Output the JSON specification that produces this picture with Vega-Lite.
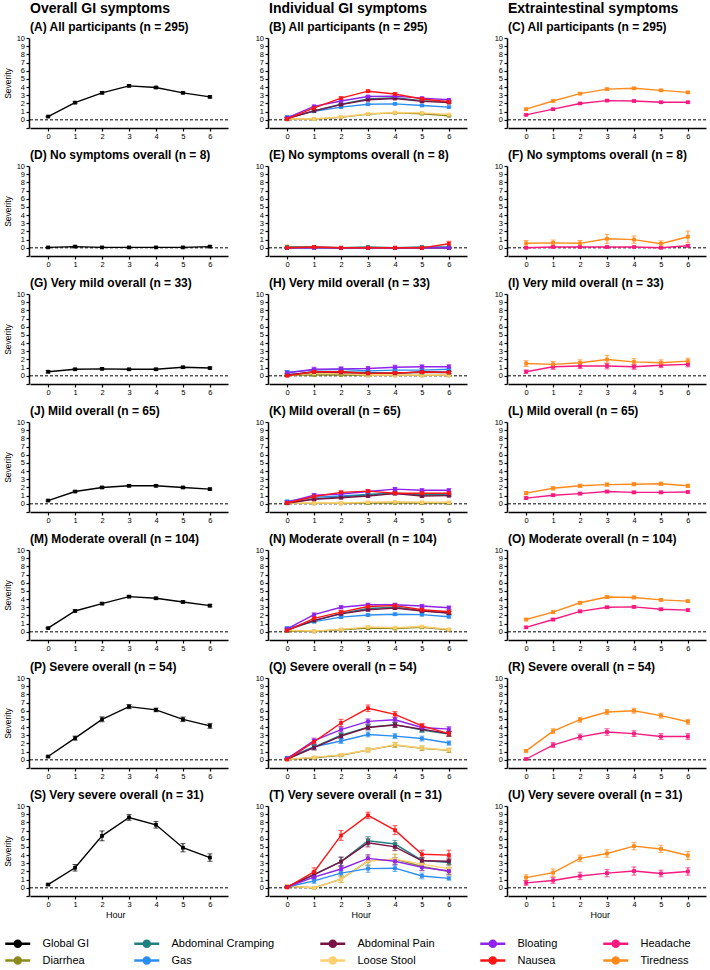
{
  "$schema": "https://vega.github.io/schema/vega-lite/v6.json",
  "background": "white",
  "padding": {"left": 3, "top": 2, "right": 2, "bottom": 0},
  "config": {
    "font": "Liberation Sans",
    "view": {"stroke": null},
    "axis": {
      "grid": false, "domainColor": "black", "domainWidth": 1.5,
      "tickColor": "black", "tickWidth": 1.2, "tickSize": 3,
      "labelColor": "black", "labelFontSize": 7.5, "labelPadding": 1.5,
      "labelOverlap": false, "labelFlush": false, "labelBound": false,
      "titleFontSize": 8.5, "titleFontWeight": "normal", "titleColor": "black", "titlePadding": 4
    },
    "axisY": {"tickCount": 11, "labelExpr": "datum.value < 0 ? '' : datum.label"},
    "axisX": {"tickCount": 7},
    "header": {
      "labelFontSize": 12, "labelFontWeight": "bold", "labelAnchor": "start",
      "labelPadding": 4, "labelColor": "black",
      "titleFontSize": 14, "titleFontWeight": "bold", "titleAnchor": "start",
      "titlePadding": 5, "titleColor": "black"
    },
    "title": {"fontSize": 9, "fontWeight": "normal", "color": "black", "offset": 3, "anchor": "middle"},
    "legend": {
      "orient": "bottom", "direction": "horizontal", "columns": 5,
      "symbolType": "M-5.16,0H-1.16M-3.64,0A0.48,0.48,0,1,1,-2.68,0A0.48,0.48,0,1,1,-3.64,0Z",
      "symbolSize": 156, "symbolStrokeWidth": 2.5, "labelFontSize": 11, "labelColor": "black",
      "labelOffset": -2.5, "columnPadding": 40, "rowPadding": 0, "offset": 16
    }
  },
  "datasets": {
    "panels": [
      {"p": "A", "t": "(A)  All participants (n = 295)"},
      {"p": "B", "t": "(B)  All participants (n = 295)"},
      {"p": "C", "t": "(C)  All participants (n = 295)"},
      {"p": "D", "t": "(D)  No symptoms overall (n = 8)"},
      {"p": "E", "t": "(E)  No symptoms overall (n = 8)"},
      {"p": "F", "t": "(F)  No symptoms overall (n = 8)"},
      {"p": "G", "t": "(G)  Very mild overall (n = 33)"},
      {"p": "H", "t": "(H)  Very mild overall (n = 33)"},
      {"p": "I", "t": "(I)  Very mild overall (n = 33)"},
      {"p": "J", "t": "(J)  Mild overall (n = 65)"},
      {"p": "K", "t": "(K)  Mild overall (n = 65)"},
      {"p": "L", "t": "(L)  Mild overall (n = 65)"},
      {"p": "M", "t": "(M)  Moderate overall (n = 104)"},
      {"p": "N", "t": "(N)  Moderate overall (n = 104)"},
      {"p": "O", "t": "(O)  Moderate overall (n = 104)"},
      {"p": "P", "t": "(P)  Severe overall (n = 54)"},
      {"p": "Q", "t": "(Q)  Severe overall (n = 54)"},
      {"p": "R", "t": "(R)  Severe overall (n = 54)"},
      {"p": "S", "t": "(S)  Very severe overall (n = 31)"},
      {"p": "T", "t": "(T)  Very severe overall (n = 31)"},
      {"p": "U", "t": "(U)  Very severe overall (n = 31)"}
    ],
    "pts": [
      {"p":"A","s":"Global GI","h":0,"m":0.4,"e":0.05},{"p":"A","s":"Global GI","h":1,"m":2.1,"e":0.12},{"p":"A","s":"Global GI","h":2,"m":3.3,"e":0.13},{"p":"A","s":"Global GI","h":3,"m":4.15,"e":0.13},{"p":"A","s":"Global GI","h":4,"m":3.95,"e":0.13},{"p":"A","s":"Global GI","h":5,"m":3.3,"e":0.12},{"p":"A","s":"Global GI","h":6,"m":2.8,"e":0.12},
      {"p":"D","s":"Global GI","h":0,"m":0.05,"e":0.05},{"p":"D","s":"Global GI","h":1,"m":0.15,"e":0.1},{"p":"D","s":"Global GI","h":2,"m":0.05,"e":0.05},{"p":"D","s":"Global GI","h":3,"m":0.05,"e":0.05},{"p":"D","s":"Global GI","h":4,"m":0.05,"e":0.05},{"p":"D","s":"Global GI","h":5,"m":0.05,"e":0.05},{"p":"D","s":"Global GI","h":6,"m":0.15,"e":0.1},
      {"p":"G","s":"Global GI","h":0,"m":0.5,"e":0.15},{"p":"G","s":"Global GI","h":1,"m":0.8,"e":0.1},{"p":"G","s":"Global GI","h":2,"m":0.85,"e":0.1},{"p":"G","s":"Global GI","h":3,"m":0.8,"e":0.1},{"p":"G","s":"Global GI","h":4,"m":0.8,"e":0.12},{"p":"G","s":"Global GI","h":5,"m":1.05,"e":0.12},{"p":"G","s":"Global GI","h":6,"m":0.95,"e":0.12},
      {"p":"J","s":"Global GI","h":0,"m":0.4,"e":0.08},{"p":"J","s":"Global GI","h":1,"m":1.5,"e":0.12},{"p":"J","s":"Global GI","h":2,"m":2.0,"e":0.12},{"p":"J","s":"Global GI","h":3,"m":2.2,"e":0.12},{"p":"J","s":"Global GI","h":4,"m":2.2,"e":0.12},{"p":"J","s":"Global GI","h":5,"m":2.0,"e":0.12},{"p":"J","s":"Global GI","h":6,"m":1.8,"e":0.12},
      {"p":"M","s":"Global GI","h":0,"m":0.45,"e":0.07},{"p":"M","s":"Global GI","h":1,"m":2.55,"e":0.13},{"p":"M","s":"Global GI","h":2,"m":3.45,"e":0.13},{"p":"M","s":"Global GI","h":3,"m":4.3,"e":0.13},{"p":"M","s":"Global GI","h":4,"m":4.1,"e":0.13},{"p":"M","s":"Global GI","h":5,"m":3.65,"e":0.13},{"p":"M","s":"Global GI","h":6,"m":3.2,"e":0.15},
      {"p":"P","s":"Global GI","h":0,"m":0.4,"e":0.08},{"p":"P","s":"Global GI","h":1,"m":2.65,"e":0.25},{"p":"P","s":"Global GI","h":2,"m":4.95,"e":0.3},{"p":"P","s":"Global GI","h":3,"m":6.5,"e":0.25},{"p":"P","s":"Global GI","h":4,"m":6.1,"e":0.22},{"p":"P","s":"Global GI","h":5,"m":4.95,"e":0.28},{"p":"P","s":"Global GI","h":6,"m":4.15,"e":0.3},
      {"p":"S","s":"Global GI","h":0,"m":0.4,"e":0.1},{"p":"S","s":"Global GI","h":1,"m":2.45,"e":0.4},{"p":"S","s":"Global GI","h":2,"m":6.35,"e":0.6},{"p":"S","s":"Global GI","h":3,"m":8.6,"e":0.35},{"p":"S","s":"Global GI","h":4,"m":7.7,"e":0.4},{"p":"S","s":"Global GI","h":5,"m":4.9,"e":0.5},{"p":"S","s":"Global GI","h":6,"m":3.7,"e":0.45},

      {"p":"B","s":"Diarrhea","h":0,"m":0.05,"e":0.05},{"p":"B","s":"Diarrhea","h":1,"m":0.1,"e":0.05},{"p":"B","s":"Diarrhea","h":2,"m":0.3,"e":0.05},{"p":"B","s":"Diarrhea","h":3,"m":0.7,"e":0.05},{"p":"B","s":"Diarrhea","h":4,"m":0.85,"e":0.05},{"p":"B","s":"Diarrhea","h":5,"m":0.75,"e":0.05},{"p":"B","s":"Diarrhea","h":6,"m":0.5,"e":0.05},
      {"p":"B","s":"Loose Stool","h":0,"m":0.1,"e":0.06},{"p":"B","s":"Loose Stool","h":1,"m":0.1,"e":0.06},{"p":"B","s":"Loose Stool","h":2,"m":0.35,"e":0.06},{"p":"B","s":"Loose Stool","h":3,"m":0.75,"e":0.06},{"p":"B","s":"Loose Stool","h":4,"m":0.9,"e":0.06},{"p":"B","s":"Loose Stool","h":5,"m":0.85,"e":0.06},{"p":"B","s":"Loose Stool","h":6,"m":0.65,"e":0.06},
      {"p":"B","s":"Gas","h":0,"m":0.35,"e":0.1},{"p":"B","s":"Gas","h":1,"m":1.05,"e":0.1},{"p":"B","s":"Gas","h":2,"m":1.55,"e":0.1},{"p":"B","s":"Gas","h":3,"m":1.9,"e":0.1},{"p":"B","s":"Gas","h":4,"m":1.95,"e":0.1},{"p":"B","s":"Gas","h":5,"m":1.75,"e":0.1},{"p":"B","s":"Gas","h":6,"m":1.55,"e":0.1},
      {"p":"B","s":"Abdominal Cramping","h":0,"m":0.15,"e":0.12},{"p":"B","s":"Abdominal Cramping","h":1,"m":1.1,"e":0.12},{"p":"B","s":"Abdominal Cramping","h":2,"m":1.9,"e":0.12},{"p":"B","s":"Abdominal Cramping","h":3,"m":2.55,"e":0.12},{"p":"B","s":"Abdominal Cramping","h":4,"m":2.7,"e":0.12},{"p":"B","s":"Abdominal Cramping","h":5,"m":2.35,"e":0.12},{"p":"B","s":"Abdominal Cramping","h":6,"m":2.2,"e":0.12},
      {"p":"B","s":"Abdominal Pain","h":0,"m":0.15,"e":0.12},{"p":"B","s":"Abdominal Pain","h":1,"m":1.1,"e":0.12},{"p":"B","s":"Abdominal Pain","h":2,"m":1.85,"e":0.12},{"p":"B","s":"Abdominal Pain","h":3,"m":2.45,"e":0.12},{"p":"B","s":"Abdominal Pain","h":4,"m":2.6,"e":0.12},{"p":"B","s":"Abdominal Pain","h":5,"m":2.25,"e":0.12},{"p":"B","s":"Abdominal Pain","h":6,"m":2.1,"e":0.12},
      {"p":"B","s":"Bloating","h":0,"m":0.25,"e":0.12},{"p":"B","s":"Bloating","h":1,"m":1.65,"e":0.12},{"p":"B","s":"Bloating","h":2,"m":2.3,"e":0.12},{"p":"B","s":"Bloating","h":3,"m":2.85,"e":0.12},{"p":"B","s":"Bloating","h":4,"m":2.9,"e":0.12},{"p":"B","s":"Bloating","h":5,"m":2.65,"e":0.12},{"p":"B","s":"Bloating","h":6,"m":2.45,"e":0.12},
      {"p":"B","s":"Nausea","h":0,"m":0.1,"e":0.15},{"p":"B","s":"Nausea","h":1,"m":1.45,"e":0.15},{"p":"B","s":"Nausea","h":2,"m":2.65,"e":0.15},{"p":"B","s":"Nausea","h":3,"m":3.5,"e":0.15},{"p":"B","s":"Nausea","h":4,"m":3.15,"e":0.15},{"p":"B","s":"Nausea","h":5,"m":2.55,"e":0.15},{"p":"B","s":"Nausea","h":6,"m":2.2,"e":0.15},

      {"p":"E","s":"Diarrhea","h":0,"m":0,"e":0},{"p":"E","s":"Diarrhea","h":1,"m":0,"e":0},{"p":"E","s":"Diarrhea","h":2,"m":0,"e":0},{"p":"E","s":"Diarrhea","h":3,"m":0,"e":0},{"p":"E","s":"Diarrhea","h":4,"m":0,"e":0},{"p":"E","s":"Diarrhea","h":5,"m":0,"e":0},{"p":"E","s":"Diarrhea","h":6,"m":0,"e":0},
      {"p":"E","s":"Loose Stool","h":0,"m":0.2,"e":0.1},{"p":"E","s":"Loose Stool","h":1,"m":0,"e":0},{"p":"E","s":"Loose Stool","h":2,"m":0,"e":0},{"p":"E","s":"Loose Stool","h":3,"m":0,"e":0},{"p":"E","s":"Loose Stool","h":4,"m":0,"e":0},{"p":"E","s":"Loose Stool","h":5,"m":0,"e":0},{"p":"E","s":"Loose Stool","h":6,"m":0.05,"e":0.05},
      {"p":"E","s":"Gas","h":0,"m":0,"e":0},{"p":"E","s":"Gas","h":1,"m":0,"e":0},{"p":"E","s":"Gas","h":2,"m":0,"e":0},{"p":"E","s":"Gas","h":3,"m":0,"e":0},{"p":"E","s":"Gas","h":4,"m":0,"e":0},{"p":"E","s":"Gas","h":5,"m":0,"e":0},{"p":"E","s":"Gas","h":6,"m":0,"e":0},
      {"p":"E","s":"Abdominal Cramping","h":0,"m":0.1,"e":0.05},{"p":"E","s":"Abdominal Cramping","h":1,"m":0.1,"e":0.05},{"p":"E","s":"Abdominal Cramping","h":2,"m":0,"e":0},{"p":"E","s":"Abdominal Cramping","h":3,"m":0.1,"e":0.05},{"p":"E","s":"Abdominal Cramping","h":4,"m":0,"e":0},{"p":"E","s":"Abdominal Cramping","h":5,"m":0.1,"e":0.05},{"p":"E","s":"Abdominal Cramping","h":6,"m":0.1,"e":0.05},
      {"p":"E","s":"Abdominal Pain","h":0,"m":0,"e":0},{"p":"E","s":"Abdominal Pain","h":1,"m":0.05,"e":0.05},{"p":"E","s":"Abdominal Pain","h":2,"m":0,"e":0},{"p":"E","s":"Abdominal Pain","h":3,"m":0,"e":0},{"p":"E","s":"Abdominal Pain","h":4,"m":0,"e":0},{"p":"E","s":"Abdominal Pain","h":5,"m":0,"e":0},{"p":"E","s":"Abdominal Pain","h":6,"m":0,"e":0},
      {"p":"E","s":"Bloating","h":0,"m":0,"e":0},{"p":"E","s":"Bloating","h":1,"m":0,"e":0},{"p":"E","s":"Bloating","h":2,"m":0,"e":0},{"p":"E","s":"Bloating","h":3,"m":0,"e":0},{"p":"E","s":"Bloating","h":4,"m":0,"e":0},{"p":"E","s":"Bloating","h":5,"m":0,"e":0},{"p":"E","s":"Bloating","h":6,"m":0,"e":0},
      {"p":"E","s":"Nausea","h":0,"m":0,"e":0},{"p":"E","s":"Nausea","h":1,"m":0.1,"e":0.1},{"p":"E","s":"Nausea","h":2,"m":0,"e":0},{"p":"E","s":"Nausea","h":3,"m":0,"e":0},{"p":"E","s":"Nausea","h":4,"m":0,"e":0},{"p":"E","s":"Nausea","h":5,"m":0,"e":0},{"p":"E","s":"Nausea","h":6,"m":0.5,"e":0.3},

      {"p":"H","s":"Diarrhea","h":0,"m":0.1,"e":0.05},{"p":"H","s":"Diarrhea","h":1,"m":0.1,"e":0.05},{"p":"H","s":"Diarrhea","h":2,"m":0.1,"e":0.05},{"p":"H","s":"Diarrhea","h":3,"m":0.05,"e":0.05},{"p":"H","s":"Diarrhea","h":4,"m":0.05,"e":0.05},{"p":"H","s":"Diarrhea","h":5,"m":0.05,"e":0.05},{"p":"H","s":"Diarrhea","h":6,"m":0.05,"e":0.05},
      {"p":"H","s":"Loose Stool","h":0,"m":0.1,"e":0.1},{"p":"H","s":"Loose Stool","h":1,"m":0.3,"e":0.1},{"p":"H","s":"Loose Stool","h":2,"m":0.3,"e":0.1},{"p":"H","s":"Loose Stool","h":3,"m":0.1,"e":0.1},{"p":"H","s":"Loose Stool","h":4,"m":0.1,"e":0.1},{"p":"H","s":"Loose Stool","h":5,"m":0.1,"e":0.1},{"p":"H","s":"Loose Stool","h":6,"m":0.1,"e":0.1},
      {"p":"H","s":"Gas","h":0,"m":0.45,"e":0.2},{"p":"H","s":"Gas","h":1,"m":0.7,"e":0.2},{"p":"H","s":"Gas","h":2,"m":0.8,"e":0.2},{"p":"H","s":"Gas","h":3,"m":0.6,"e":0.2},{"p":"H","s":"Gas","h":4,"m":0.7,"e":0.2},{"p":"H","s":"Gas","h":5,"m":0.7,"e":0.2},{"p":"H","s":"Gas","h":6,"m":0.8,"e":0.2},
      {"p":"H","s":"Abdominal Cramping","h":0,"m":0.1,"e":0.15},{"p":"H","s":"Abdominal Cramping","h":1,"m":0.45,"e":0.15},{"p":"H","s":"Abdominal Cramping","h":2,"m":0.5,"e":0.15},{"p":"H","s":"Abdominal Cramping","h":3,"m":0.4,"e":0.15},{"p":"H","s":"Abdominal Cramping","h":4,"m":0.35,"e":0.15},{"p":"H","s":"Abdominal Cramping","h":5,"m":0.4,"e":0.15},{"p":"H","s":"Abdominal Cramping","h":6,"m":0.4,"e":0.15},
      {"p":"H","s":"Abdominal Pain","h":0,"m":0.1,"e":0.15},{"p":"H","s":"Abdominal Pain","h":1,"m":0.5,"e":0.15},{"p":"H","s":"Abdominal Pain","h":2,"m":0.4,"e":0.15},{"p":"H","s":"Abdominal Pain","h":3,"m":0.3,"e":0.15},{"p":"H","s":"Abdominal Pain","h":4,"m":0.3,"e":0.15},{"p":"H","s":"Abdominal Pain","h":5,"m":0.5,"e":0.15},{"p":"H","s":"Abdominal Pain","h":6,"m":0.45,"e":0.15},
      {"p":"H","s":"Bloating","h":0,"m":0.35,"e":0.25},{"p":"H","s":"Bloating","h":1,"m":0.8,"e":0.25},{"p":"H","s":"Bloating","h":2,"m":0.85,"e":0.25},{"p":"H","s":"Bloating","h":3,"m":0.9,"e":0.25},{"p":"H","s":"Bloating","h":4,"m":1.05,"e":0.25},{"p":"H","s":"Bloating","h":5,"m":1.1,"e":0.25},{"p":"H","s":"Bloating","h":6,"m":1.1,"e":0.25},
      {"p":"H","s":"Nausea","h":0,"m":0,"e":0.05},{"p":"H","s":"Nausea","h":1,"m":0.5,"e":0.15},{"p":"H","s":"Nausea","h":2,"m":0.5,"e":0.15},{"p":"H","s":"Nausea","h":3,"m":0.3,"e":0.15},{"p":"H","s":"Nausea","h":4,"m":0.35,"e":0.15},{"p":"H","s":"Nausea","h":5,"m":0.45,"e":0.15},{"p":"H","s":"Nausea","h":6,"m":0.4,"e":0.15},

      {"p":"K","s":"Diarrhea","h":0,"m":0.05,"e":0.05},{"p":"K","s":"Diarrhea","h":1,"m":0.05,"e":0.05},{"p":"K","s":"Diarrhea","h":2,"m":0.05,"e":0.05},{"p":"K","s":"Diarrhea","h":3,"m":0.1,"e":0.05},{"p":"K","s":"Diarrhea","h":4,"m":0.1,"e":0.05},{"p":"K","s":"Diarrhea","h":5,"m":0.1,"e":0.05},{"p":"K","s":"Diarrhea","h":6,"m":0.1,"e":0.05},
      {"p":"K","s":"Loose Stool","h":0,"m":0.1,"e":0.08},{"p":"K","s":"Loose Stool","h":1,"m":0.1,"e":0.08},{"p":"K","s":"Loose Stool","h":2,"m":0.1,"e":0.08},{"p":"K","s":"Loose Stool","h":3,"m":0.2,"e":0.08},{"p":"K","s":"Loose Stool","h":4,"m":0.25,"e":0.08},{"p":"K","s":"Loose Stool","h":5,"m":0.2,"e":0.08},{"p":"K","s":"Loose Stool","h":6,"m":0.2,"e":0.08},
      {"p":"K","s":"Gas","h":0,"m":0.3,"e":0.15},{"p":"K","s":"Gas","h":1,"m":0.8,"e":0.15},{"p":"K","s":"Gas","h":2,"m":0.95,"e":0.15},{"p":"K","s":"Gas","h":3,"m":1.15,"e":0.15},{"p":"K","s":"Gas","h":4,"m":1.3,"e":0.15},{"p":"K","s":"Gas","h":5,"m":1.15,"e":0.15},{"p":"K","s":"Gas","h":6,"m":1.15,"e":0.15},
      {"p":"K","s":"Abdominal Cramping","h":0,"m":0.1,"e":0.15},{"p":"K","s":"Abdominal Cramping","h":1,"m":0.6,"e":0.15},{"p":"K","s":"Abdominal Cramping","h":2,"m":0.85,"e":0.15},{"p":"K","s":"Abdominal Cramping","h":3,"m":1.1,"e":0.15},{"p":"K","s":"Abdominal Cramping","h":4,"m":1.3,"e":0.15},{"p":"K","s":"Abdominal Cramping","h":5,"m":1.1,"e":0.15},{"p":"K","s":"Abdominal Cramping","h":6,"m":1.1,"e":0.15},
      {"p":"K","s":"Abdominal Pain","h":0,"m":0.1,"e":0.15},{"p":"K","s":"Abdominal Pain","h":1,"m":0.55,"e":0.15},{"p":"K","s":"Abdominal Pain","h":2,"m":0.75,"e":0.15},{"p":"K","s":"Abdominal Pain","h":3,"m":0.95,"e":0.15},{"p":"K","s":"Abdominal Pain","h":4,"m":1.25,"e":0.15},{"p":"K","s":"Abdominal Pain","h":5,"m":0.95,"e":0.15},{"p":"K","s":"Abdominal Pain","h":6,"m":1.0,"e":0.15},
      {"p":"K","s":"Bloating","h":0,"m":0.2,"e":0.2},{"p":"K","s":"Bloating","h":1,"m":1.05,"e":0.2},{"p":"K","s":"Bloating","h":2,"m":1.2,"e":0.2},{"p":"K","s":"Bloating","h":3,"m":1.5,"e":0.2},{"p":"K","s":"Bloating","h":4,"m":1.8,"e":0.2},{"p":"K","s":"Bloating","h":5,"m":1.65,"e":0.2},{"p":"K","s":"Bloating","h":6,"m":1.65,"e":0.2},
      {"p":"K","s":"Nausea","h":0,"m":0.1,"e":0.08},{"p":"K","s":"Nausea","h":1,"m":0.9,"e":0.18},{"p":"K","s":"Nausea","h":2,"m":1.4,"e":0.18},{"p":"K","s":"Nausea","h":3,"m":1.55,"e":0.18},{"p":"K","s":"Nausea","h":4,"m":1.3,"e":0.18},{"p":"K","s":"Nausea","h":5,"m":1.3,"e":0.18},{"p":"K","s":"Nausea","h":6,"m":1.3,"e":0.18},

      {"p":"N","s":"Diarrhea","h":0,"m":0.1,"e":0.1},{"p":"N","s":"Diarrhea","h":1,"m":0.05,"e":0.05},{"p":"N","s":"Diarrhea","h":2,"m":0.25,"e":0.1},{"p":"N","s":"Diarrhea","h":3,"m":0.45,"e":0.1},{"p":"N","s":"Diarrhea","h":4,"m":0.4,"e":0.1},{"p":"N","s":"Diarrhea","h":5,"m":0.55,"e":0.1},{"p":"N","s":"Diarrhea","h":6,"m":0.25,"e":0.1},
      {"p":"N","s":"Loose Stool","h":0,"m":0.2,"e":0.1},{"p":"N","s":"Loose Stool","h":1,"m":0.1,"e":0.05},{"p":"N","s":"Loose Stool","h":2,"m":0.3,"e":0.1},{"p":"N","s":"Loose Stool","h":3,"m":0.6,"e":0.1},{"p":"N","s":"Loose Stool","h":4,"m":0.5,"e":0.1},{"p":"N","s":"Loose Stool","h":5,"m":0.65,"e":0.1},{"p":"N","s":"Loose Stool","h":6,"m":0.3,"e":0.1},
      {"p":"N","s":"Gas","h":0,"m":0.45,"e":0.15},{"p":"N","s":"Gas","h":1,"m":1.25,"e":0.15},{"p":"N","s":"Gas","h":2,"m":1.8,"e":0.15},{"p":"N","s":"Gas","h":3,"m":2.05,"e":0.15},{"p":"N","s":"Gas","h":4,"m":2.15,"e":0.15},{"p":"N","s":"Gas","h":5,"m":2.1,"e":0.15},{"p":"N","s":"Gas","h":6,"m":1.85,"e":0.15},
      {"p":"N","s":"Abdominal Cramping","h":0,"m":0.2,"e":0.18},{"p":"N","s":"Abdominal Cramping","h":1,"m":1.35,"e":0.18},{"p":"N","s":"Abdominal Cramping","h":2,"m":2.25,"e":0.18},{"p":"N","s":"Abdominal Cramping","h":3,"m":2.85,"e":0.18},{"p":"N","s":"Abdominal Cramping","h":4,"m":3.0,"e":0.18},{"p":"N","s":"Abdominal Cramping","h":5,"m":2.6,"e":0.18},{"p":"N","s":"Abdominal Cramping","h":6,"m":2.3,"e":0.18},
      {"p":"N","s":"Abdominal Pain","h":0,"m":0.2,"e":0.18},{"p":"N","s":"Abdominal Pain","h":1,"m":1.4,"e":0.18},{"p":"N","s":"Abdominal Pain","h":2,"m":2.2,"e":0.18},{"p":"N","s":"Abdominal Pain","h":3,"m":2.7,"e":0.18},{"p":"N","s":"Abdominal Pain","h":4,"m":2.9,"e":0.18},{"p":"N","s":"Abdominal Pain","h":5,"m":2.55,"e":0.18},{"p":"N","s":"Abdominal Pain","h":6,"m":2.3,"e":0.18},
      {"p":"N","s":"Bloating","h":0,"m":0.35,"e":0.2},{"p":"N","s":"Bloating","h":1,"m":2.1,"e":0.2},{"p":"N","s":"Bloating","h":2,"m":3.0,"e":0.2},{"p":"N","s":"Bloating","h":3,"m":3.3,"e":0.2},{"p":"N","s":"Bloating","h":4,"m":3.3,"e":0.2},{"p":"N","s":"Bloating","h":5,"m":3.15,"e":0.2},{"p":"N","s":"Bloating","h":6,"m":2.95,"e":0.2},
      {"p":"N","s":"Nausea","h":0,"m":0.15,"e":0.1},{"p":"N","s":"Nausea","h":1,"m":1.65,"e":0.2},{"p":"N","s":"Nausea","h":2,"m":2.4,"e":0.2},{"p":"N","s":"Nausea","h":3,"m":3.1,"e":0.2},{"p":"N","s":"Nausea","h":4,"m":3.2,"e":0.2},{"p":"N","s":"Nausea","h":5,"m":2.7,"e":0.2},{"p":"N","s":"Nausea","h":6,"m":2.45,"e":0.2},

      {"p":"Q","s":"Diarrhea","h":0,"m":0.05,"e":0.03},{"p":"Q","s":"Diarrhea","h":1,"m":0.25,"e":0.1},{"p":"Q","s":"Diarrhea","h":2,"m":0.55,"e":0.15},{"p":"Q","s":"Diarrhea","h":3,"m":1.2,"e":0.25},{"p":"Q","s":"Diarrhea","h":4,"m":1.8,"e":0.3},{"p":"Q","s":"Diarrhea","h":5,"m":1.4,"e":0.28},{"p":"Q","s":"Diarrhea","h":6,"m":1.15,"e":0.25},
      {"p":"Q","s":"Loose Stool","h":0,"m":0.05,"e":0.03},{"p":"Q","s":"Loose Stool","h":1,"m":0.3,"e":0.1},{"p":"Q","s":"Loose Stool","h":2,"m":0.6,"e":0.15},{"p":"Q","s":"Loose Stool","h":3,"m":1.2,"e":0.25},{"p":"Q","s":"Loose Stool","h":4,"m":1.85,"e":0.3},{"p":"Q","s":"Loose Stool","h":5,"m":1.45,"e":0.28},{"p":"Q","s":"Loose Stool","h":6,"m":1.2,"e":0.25},
      {"p":"Q","s":"Gas","h":0,"m":0.25,"e":0.1},{"p":"Q","s":"Gas","h":1,"m":1.6,"e":0.25},{"p":"Q","s":"Gas","h":2,"m":2.3,"e":0.3},{"p":"Q","s":"Gas","h":3,"m":3.1,"e":0.3},{"p":"Q","s":"Gas","h":4,"m":2.9,"e":0.3},{"p":"Q","s":"Gas","h":5,"m":2.6,"e":0.3},{"p":"Q","s":"Gas","h":6,"m":2.05,"e":0.25},
      {"p":"Q","s":"Abdominal Cramping","h":0,"m":0.1,"e":0.05},{"p":"Q","s":"Abdominal Cramping","h":1,"m":1.55,"e":0.3},{"p":"Q","s":"Abdominal Cramping","h":2,"m":3.0,"e":0.3},{"p":"Q","s":"Abdominal Cramping","h":3,"m":4.0,"e":0.3},{"p":"Q","s":"Abdominal Cramping","h":4,"m":4.3,"e":0.3},{"p":"Q","s":"Abdominal Cramping","h":5,"m":3.65,"e":0.3},{"p":"Q","s":"Abdominal Cramping","h":6,"m":3.15,"e":0.3},
      {"p":"Q","s":"Abdominal Pain","h":0,"m":0.1,"e":0.05},{"p":"Q","s":"Abdominal Pain","h":1,"m":1.5,"e":0.3},{"p":"Q","s":"Abdominal Pain","h":2,"m":2.9,"e":0.3},{"p":"Q","s":"Abdominal Pain","h":3,"m":3.95,"e":0.3},{"p":"Q","s":"Abdominal Pain","h":4,"m":4.25,"e":0.3},{"p":"Q","s":"Abdominal Pain","h":5,"m":3.75,"e":0.3},{"p":"Q","s":"Abdominal Pain","h":6,"m":3.2,"e":0.3},
      {"p":"Q","s":"Bloating","h":0,"m":0.15,"e":0.05},{"p":"Q","s":"Bloating","h":1,"m":2.35,"e":0.3},{"p":"Q","s":"Bloating","h":2,"m":3.7,"e":0.3},{"p":"Q","s":"Bloating","h":3,"m":4.7,"e":0.3},{"p":"Q","s":"Bloating","h":4,"m":4.9,"e":0.3},{"p":"Q","s":"Bloating","h":5,"m":3.95,"e":0.3},{"p":"Q","s":"Bloating","h":6,"m":3.75,"e":0.3},
      {"p":"Q","s":"Nausea","h":0,"m":0.05,"e":0.03},{"p":"Q","s":"Nausea","h":1,"m":2.2,"e":0.3},{"p":"Q","s":"Nausea","h":2,"m":4.5,"e":0.45},{"p":"Q","s":"Nausea","h":3,"m":6.3,"e":0.4},{"p":"Q","s":"Nausea","h":4,"m":5.55,"e":0.35},{"p":"Q","s":"Nausea","h":5,"m":4.15,"e":0.3},{"p":"Q","s":"Nausea","h":6,"m":3.2,"e":0.3},

      {"p":"T","s":"Diarrhea","h":0,"m":0.2,"e":0.1},{"p":"T","s":"Diarrhea","h":1,"m":0,"e":0},{"p":"T","s":"Diarrhea","h":2,"m":1.05,"e":0.4},{"p":"T","s":"Diarrhea","h":3,"m":3.3,"e":0.6},{"p":"T","s":"Diarrhea","h":4,"m":3.5,"e":0.6},{"p":"T","s":"Diarrhea","h":5,"m":2.6,"e":0.5},{"p":"T","s":"Diarrhea","h":6,"m":2.0,"e":0.45},
      {"p":"T","s":"Loose Stool","h":0,"m":0.2,"e":0.1},{"p":"T","s":"Loose Stool","h":1,"m":0,"e":0},{"p":"T","s":"Loose Stool","h":2,"m":1.05,"e":0.4},{"p":"T","s":"Loose Stool","h":3,"m":3.3,"e":0.6},{"p":"T","s":"Loose Stool","h":4,"m":3.5,"e":0.6},{"p":"T","s":"Loose Stool","h":5,"m":2.9,"e":0.5},{"p":"T","s":"Loose Stool","h":6,"m":2.35,"e":0.45},
      {"p":"T","s":"Gas","h":0,"m":0.1,"e":0.05},{"p":"T","s":"Gas","h":1,"m":0.85,"e":0.3},{"p":"T","s":"Gas","h":2,"m":1.8,"e":0.35},{"p":"T","s":"Gas","h":3,"m":2.35,"e":0.45},{"p":"T","s":"Gas","h":4,"m":2.4,"e":0.4},{"p":"T","s":"Gas","h":5,"m":1.45,"e":0.35},{"p":"T","s":"Gas","h":6,"m":1.15,"e":0.2},
      {"p":"T","s":"Abdominal Cramping","h":0,"m":0.1,"e":0.05},{"p":"T","s":"Abdominal Cramping","h":1,"m":1.6,"e":0.35},{"p":"T","s":"Abdominal Cramping","h":2,"m":3.2,"e":0.55},{"p":"T","s":"Abdominal Cramping","h":3,"m":5.75,"e":0.5},{"p":"T","s":"Abdominal Cramping","h":4,"m":5.35,"e":0.45},{"p":"T","s":"Abdominal Cramping","h":5,"m":3.35,"e":0.4},{"p":"T","s":"Abdominal Cramping","h":6,"m":3.1,"e":0.4},
      {"p":"T","s":"Abdominal Pain","h":0,"m":0.1,"e":0.05},{"p":"T","s":"Abdominal Pain","h":1,"m":1.6,"e":0.35},{"p":"T","s":"Abdominal Pain","h":2,"m":3.2,"e":0.55},{"p":"T","s":"Abdominal Pain","h":3,"m":5.5,"e":0.5},{"p":"T","s":"Abdominal Pain","h":4,"m":5.0,"e":0.45},{"p":"T","s":"Abdominal Pain","h":5,"m":3.3,"e":0.4},{"p":"T","s":"Abdominal Pain","h":6,"m":3.25,"e":0.4},
      {"p":"T","s":"Bloating","h":0,"m":0.1,"e":0.05},{"p":"T","s":"Bloating","h":1,"m":1.3,"e":0.3},{"p":"T","s":"Bloating","h":2,"m":2.3,"e":0.4},{"p":"T","s":"Bloating","h":3,"m":3.6,"e":0.45},{"p":"T","s":"Bloating","h":4,"m":3.25,"e":0.45},{"p":"T","s":"Bloating","h":5,"m":2.5,"e":0.4},{"p":"T","s":"Bloating","h":6,"m":2.05,"e":0.4},
      {"p":"T","s":"Nausea","h":0,"m":0.05,"e":0.03},{"p":"T","s":"Nausea","h":1,"m":1.95,"e":0.5},{"p":"T","s":"Nausea","h":2,"m":6.4,"e":0.6},{"p":"T","s":"Nausea","h":3,"m":8.85,"e":0.4},{"p":"T","s":"Nausea","h":4,"m":7.05,"e":0.55},{"p":"T","s":"Nausea","h":5,"m":4.1,"e":0.5},{"p":"T","s":"Nausea","h":6,"m":4.0,"e":0.6},

      {"p":"C","s":"Headache","h":0,"m":0.6,"e":0.08},{"p":"C","s":"Headache","h":1,"m":1.3,"e":0.1},{"p":"C","s":"Headache","h":2,"m":2.0,"e":0.1},{"p":"C","s":"Headache","h":3,"m":2.35,"e":0.1},{"p":"C","s":"Headache","h":4,"m":2.3,"e":0.1},{"p":"C","s":"Headache","h":5,"m":2.15,"e":0.1},{"p":"C","s":"Headache","h":6,"m":2.15,"e":0.1},
      {"p":"C","s":"Tiredness","h":0,"m":1.3,"e":0.12},{"p":"C","s":"Tiredness","h":1,"m":2.3,"e":0.12},{"p":"C","s":"Tiredness","h":2,"m":3.2,"e":0.12},{"p":"C","s":"Tiredness","h":3,"m":3.75,"e":0.12},{"p":"C","s":"Tiredness","h":4,"m":3.85,"e":0.12},{"p":"C","s":"Tiredness","h":5,"m":3.6,"e":0.12},{"p":"C","s":"Tiredness","h":6,"m":3.35,"e":0.12},
      {"p":"F","s":"Headache","h":0,"m":0,"e":0},{"p":"F","s":"Headache","h":1,"m":0.1,"e":0.05},{"p":"F","s":"Headache","h":2,"m":0.1,"e":0.05},{"p":"F","s":"Headache","h":3,"m":0.1,"e":0.1},{"p":"F","s":"Headache","h":4,"m":0.1,"e":0.05},{"p":"F","s":"Headache","h":5,"m":0,"e":0},{"p":"F","s":"Headache","h":6,"m":0.25,"e":0.15},
      {"p":"F","s":"Tiredness","h":0,"m":0.55,"e":0.35},{"p":"F","s":"Tiredness","h":1,"m":0.6,"e":0.35},{"p":"F","s":"Tiredness","h":2,"m":0.55,"e":0.35},{"p":"F","s":"Tiredness","h":3,"m":1.1,"e":0.55},{"p":"F","s":"Tiredness","h":4,"m":1.0,"e":0.45},{"p":"F","s":"Tiredness","h":5,"m":0.5,"e":0.35},{"p":"F","s":"Tiredness","h":6,"m":1.35,"e":0.7},
      {"p":"I","s":"Headache","h":0,"m":0.5,"e":0.2},{"p":"I","s":"Headache","h":1,"m":1.1,"e":0.3},{"p":"I","s":"Headache","h":2,"m":1.2,"e":0.3},{"p":"I","s":"Headache","h":3,"m":1.2,"e":0.35},{"p":"I","s":"Headache","h":4,"m":1.1,"e":0.3},{"p":"I","s":"Headache","h":5,"m":1.3,"e":0.3},{"p":"I","s":"Headache","h":6,"m":1.4,"e":0.3},
      {"p":"I","s":"Tiredness","h":0,"m":1.5,"e":0.35},{"p":"I","s":"Tiredness","h":1,"m":1.4,"e":0.35},{"p":"I","s":"Tiredness","h":2,"m":1.6,"e":0.35},{"p":"I","s":"Tiredness","h":3,"m":2.0,"e":0.5},{"p":"I","s":"Tiredness","h":4,"m":1.7,"e":0.4},{"p":"I","s":"Tiredness","h":5,"m":1.6,"e":0.35},{"p":"I","s":"Tiredness","h":6,"m":1.8,"e":0.35},
      {"p":"L","s":"Headache","h":0,"m":0.7,"e":0.15},{"p":"L","s":"Headache","h":1,"m":1.05,"e":0.15},{"p":"L","s":"Headache","h":2,"m":1.25,"e":0.15},{"p":"L","s":"Headache","h":3,"m":1.5,"e":0.15},{"p":"L","s":"Headache","h":4,"m":1.4,"e":0.15},{"p":"L","s":"Headache","h":5,"m":1.4,"e":0.15},{"p":"L","s":"Headache","h":6,"m":1.45,"e":0.15},
      {"p":"L","s":"Tiredness","h":0,"m":1.3,"e":0.2},{"p":"L","s":"Tiredness","h":1,"m":1.9,"e":0.2},{"p":"L","s":"Tiredness","h":2,"m":2.2,"e":0.2},{"p":"L","s":"Tiredness","h":3,"m":2.35,"e":0.2},{"p":"L","s":"Tiredness","h":4,"m":2.4,"e":0.2},{"p":"L","s":"Tiredness","h":5,"m":2.45,"e":0.2},{"p":"L","s":"Tiredness","h":6,"m":2.2,"e":0.2},
      {"p":"O","s":"Headache","h":0,"m":0.55,"e":0.1},{"p":"O","s":"Headache","h":1,"m":1.5,"e":0.15},{"p":"O","s":"Headache","h":2,"m":2.5,"e":0.15},{"p":"O","s":"Headache","h":3,"m":3.0,"e":0.15},{"p":"O","s":"Headache","h":4,"m":3.05,"e":0.15},{"p":"O","s":"Headache","h":5,"m":2.75,"e":0.15},{"p":"O","s":"Headache","h":6,"m":2.65,"e":0.15},
      {"p":"O","s":"Tiredness","h":0,"m":1.5,"e":0.15},{"p":"O","s":"Tiredness","h":1,"m":2.4,"e":0.15},{"p":"O","s":"Tiredness","h":2,"m":3.55,"e":0.15},{"p":"O","s":"Tiredness","h":3,"m":4.25,"e":0.15},{"p":"O","s":"Tiredness","h":4,"m":4.2,"e":0.15},{"p":"O","s":"Tiredness","h":5,"m":3.9,"e":0.15},{"p":"O","s":"Tiredness","h":6,"m":3.75,"e":0.15},
      {"p":"R","s":"Headache","h":0,"m":0.1,"e":0.05},{"p":"R","s":"Headache","h":1,"m":1.8,"e":0.3},{"p":"R","s":"Headache","h":2,"m":2.8,"e":0.35},{"p":"R","s":"Headache","h":3,"m":3.4,"e":0.4},{"p":"R","s":"Headache","h":4,"m":3.2,"e":0.35},{"p":"R","s":"Headache","h":5,"m":2.85,"e":0.35},{"p":"R","s":"Headache","h":6,"m":2.85,"e":0.35},
      {"p":"R","s":"Tiredness","h":0,"m":1.1,"e":0.15},{"p":"R","s":"Tiredness","h":1,"m":3.5,"e":0.3},{"p":"R","s":"Tiredness","h":2,"m":4.9,"e":0.3},{"p":"R","s":"Tiredness","h":3,"m":5.85,"e":0.3},{"p":"R","s":"Tiredness","h":4,"m":6.0,"e":0.3},{"p":"R","s":"Tiredness","h":5,"m":5.4,"e":0.3},{"p":"R","s":"Tiredness","h":6,"m":4.65,"e":0.3},
      {"p":"U","s":"Headache","h":0,"m":0.6,"e":0.3},{"p":"U","s":"Headache","h":1,"m":0.9,"e":0.35},{"p":"U","s":"Headache","h":2,"m":1.45,"e":0.45},{"p":"U","s":"Headache","h":3,"m":1.8,"e":0.45},{"p":"U","s":"Headache","h":4,"m":2.05,"e":0.5},{"p":"U","s":"Headache","h":5,"m":1.75,"e":0.4},{"p":"U","s":"Headache","h":6,"m":2.0,"e":0.45},
      {"p":"U","s":"Tiredness","h":0,"m":1.25,"e":0.35},{"p":"U","s":"Tiredness","h":1,"m":1.85,"e":0.45},{"p":"U","s":"Tiredness","h":2,"m":3.6,"e":0.4},{"p":"U","s":"Tiredness","h":3,"m":4.2,"e":0.45},{"p":"U","s":"Tiredness","h":4,"m":5.1,"e":0.45},{"p":"U","s":"Tiredness","h":5,"m":4.75,"e":0.45},{"p":"U","s":"Tiredness","h":6,"m":3.95,"e":0.5}
    ]
  },
  "data": {"name": "pts"},
  "spacing": 26,
  "hconcat": [
    {
      "transform": [
        {"filter": {"field": "p", "oneOf": ["A", "D", "G", "J", "M", "P", "S"]}},
        {"lookup": "p", "from": {"data": {"name": "panels"}, "key": "p", "fields": ["t"]}}
      ],
      "facet": {"field": "t", "type": "nominal", "title": "Overall GI symptoms"},
      "columns": 1,
      "spacing": 9,
      "title": {"text": "Hour", "orient": "bottom"},
      "resolve": {"axis": {"x": "independent"}},
      "spec": {
        "width": 198,
        "height": 90,
        "encoding": {
          "color": {
            "field": "s", "type": "nominal",
            "scale": {
              "domain": ["Global GI", "Abdominal Cramping", "Abdominal Pain", "Bloating", "Headache", "Diarrhea", "Gas", "Loose Stool", "Nausea", "Tiredness"],
              "range": ["#000000", "#1f8080", "#7a1145", "#8f22ee", "#f7197f", "#8c8a1f", "#2b8df2", "#ffcf6e", "#ff1414", "#ff8a1a"]
            },
            "legend": {"title": null, "encode": {"symbols": {"update": {"fill": {"scale": "color", "field": "value"}, "stroke": {"scale": "color", "field": "value"}, "opacity": {"value": 1}}}}}
          }
        },
        "layer": [
          {
            "transform": [{"filter": "datum.h == 0 && datum.s == 'Global GI'"}],
            "mark": {"type": "rule", "strokeDash": [3, 2], "strokeWidth": 1},
            "encoding": {"y": {"datum": 0}, "color": {"value": "black"}}
          },
          {
            "mark": {"type": "errorbar", "ticks": true, "thickness": 1},
            "encoding": {
              "x": {"field": "h", "type": "quantitative", "scale": {"domain": [-0.67, 6.67], "nice": false, "zero": false}, "title": null},
              "y": {"field": "m", "type": "quantitative", "scale": {"domain": [-1, 10], "nice": false, "zero": false}, "title": "Severity"},
              "yError": {"field": "e"}
            }
          },
          {
            "mark": {"type": "line", "strokeWidth": 1.4},
            "encoding": {
              "x": {"field": "h", "type": "quantitative", "title": null},
              "y": {"field": "m", "type": "quantitative", "title": "Severity"}
            }
          },
          {
            "mark": {"type": "point", "shape": "square", "filled": true, "size": 14, "opacity": 1},
            "encoding": {
              "x": {"field": "h", "type": "quantitative", "title": null},
              "y": {"field": "m", "type": "quantitative", "title": "Severity"}
            }
          }
        ]
      }
    },
    {
      "transform": [
        {"filter": {"field": "p", "oneOf": ["B", "E", "H", "K", "N", "Q", "T"]}},
        {"lookup": "p", "from": {"data": {"name": "panels"}, "key": "p", "fields": ["t"]}}
      ],
      "facet": {"field": "t", "type": "nominal", "title": "Individual GI symptoms"},
      "columns": 1,
      "spacing": 9,
      "title": {"text": "Hour", "orient": "bottom"},
      "resolve": {"axis": {"x": "independent"}},
      "spec": {
        "width": 198,
        "height": 90,
        "encoding": {
          "color": {
            "field": "s", "type": "nominal",
            "scale": {
              "domain": ["Global GI", "Abdominal Cramping", "Abdominal Pain", "Bloating", "Headache", "Diarrhea", "Gas", "Loose Stool", "Nausea", "Tiredness"],
              "range": ["#000000", "#1f8080", "#7a1145", "#8f22ee", "#f7197f", "#8c8a1f", "#2b8df2", "#ffcf6e", "#ff1414", "#ff8a1a"]
            },
            "legend": {"title": null, "encode": {"symbols": {"update": {"fill": {"scale": "color", "field": "value"}, "stroke": {"scale": "color", "field": "value"}, "opacity": {"value": 1}}}}}
          }
        },
        "layer": [
          {
            "transform": [{"filter": "datum.h == 0 && datum.s == 'Nausea'"}],
            "mark": {"type": "rule", "strokeDash": [3, 2], "strokeWidth": 1},
            "encoding": {"y": {"datum": 0}, "color": {"value": "black"}}
          },
          {
            "mark": {"type": "errorbar", "ticks": true, "thickness": 1},
            "encoding": {
              "x": {"field": "h", "type": "quantitative", "scale": {"domain": [-0.67, 6.67], "nice": false, "zero": false}, "title": null},
              "y": {"field": "m", "type": "quantitative", "scale": {"domain": [-1, 10], "nice": false, "zero": false}, "title": null},
              "yError": {"field": "e"}
            }
          },
          {
            "mark": {"type": "line", "strokeWidth": 1.4},
            "encoding": {
              "x": {"field": "h", "type": "quantitative", "title": null},
              "y": {"field": "m", "type": "quantitative", "title": null}
            }
          },
          {
            "mark": {"type": "point", "shape": "square", "filled": true, "size": 14, "opacity": 1},
            "encoding": {
              "x": {"field": "h", "type": "quantitative", "title": null},
              "y": {"field": "m", "type": "quantitative", "title": null}
            }
          }
        ]
      }
    },
    {
      "transform": [
        {"filter": {"field": "p", "oneOf": ["C", "F", "I", "L", "O", "R", "U"]}},
        {"lookup": "p", "from": {"data": {"name": "panels"}, "key": "p", "fields": ["t"]}}
      ],
      "facet": {"field": "t", "type": "nominal", "title": "Extraintestinal symptoms"},
      "columns": 1,
      "spacing": 9,
      "title": {"text": "Hour", "orient": "bottom"},
      "resolve": {"axis": {"x": "independent"}},
      "spec": {
        "width": 198,
        "height": 90,
        "encoding": {
          "color": {
            "field": "s", "type": "nominal",
            "scale": {
              "domain": ["Global GI", "Abdominal Cramping", "Abdominal Pain", "Bloating", "Headache", "Diarrhea", "Gas", "Loose Stool", "Nausea", "Tiredness"],
              "range": ["#000000", "#1f8080", "#7a1145", "#8f22ee", "#f7197f", "#8c8a1f", "#2b8df2", "#ffcf6e", "#ff1414", "#ff8a1a"]
            },
            "legend": {"title": null, "encode": {"symbols": {"update": {"fill": {"scale": "color", "field": "value"}, "stroke": {"scale": "color", "field": "value"}, "opacity": {"value": 1}}}}}
          }
        },
        "layer": [
          {
            "transform": [{"filter": "datum.h == 0 && datum.s == 'Headache'"}],
            "mark": {"type": "rule", "strokeDash": [3, 2], "strokeWidth": 1},
            "encoding": {"y": {"datum": 0}, "color": {"value": "black"}}
          },
          {
            "mark": {"type": "errorbar", "ticks": true, "thickness": 1},
            "encoding": {
              "x": {"field": "h", "type": "quantitative", "scale": {"domain": [-0.67, 6.67], "nice": false, "zero": false}, "title": null},
              "y": {"field": "m", "type": "quantitative", "scale": {"domain": [-1, 10], "nice": false, "zero": false}, "title": null},
              "yError": {"field": "e"}
            }
          },
          {
            "mark": {"type": "line", "strokeWidth": 1.4},
            "encoding": {
              "x": {"field": "h", "type": "quantitative", "title": null},
              "y": {"field": "m", "type": "quantitative", "title": null}
            }
          },
          {
            "mark": {"type": "point", "shape": "square", "filled": true, "size": 14, "opacity": 1},
            "encoding": {
              "x": {"field": "h", "type": "quantitative", "title": null},
              "y": {"field": "m", "type": "quantitative", "title": null}
            }
          }
        ]
      }
    }
  ]
}
